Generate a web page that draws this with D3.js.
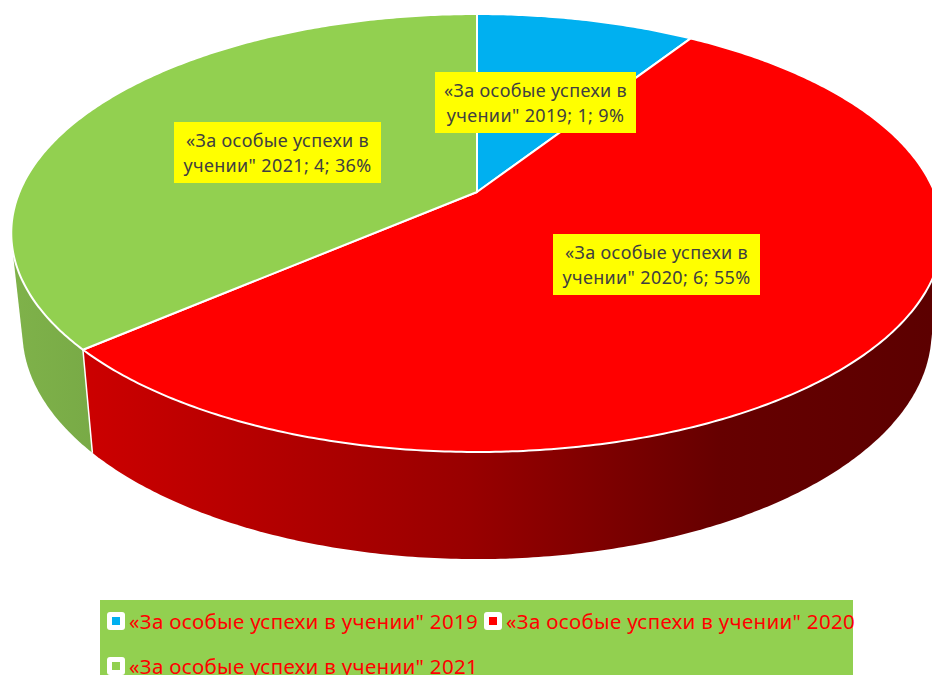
<!DOCTYPE html>
<html>
<head>
<meta charset="utf-8">
<script src="https://cdn.jsdelivr.net/npm/d3@7"></script>
<style>
  html, body { margin: 0; padding: 0; background: #fff; overflow: hidden; }
  svg { display: block; }
  text { font-family: "Noto Sans", "Open Sans", sans-serif; }
</style>
</head>
<body>
<div id="chart"></div>
<script>
const seriesName = "«За особые успехи в учении\"";
const years = ["2019", "2020", "2021"];
const values = [1, 6, 4];

const sliceColors = ["#00b0f0", "#ff0000", "#92d050"];
const labelBoxes = [
    { x: 435, y: 72, w: 201 },
    { x: 553, y: 234, w: 207 },
    { x: 174, y: 122, w: 207 }
];
const legendItems = [
    { x: 107, y: 621 },
    { x: 484, y: 621 },
    { x: 107, y: 666 }
];

const width = 932;
const height = 675;

const svg = d3.select("#chart")
    .append("svg")
    .attr("width", width)
    .attr("height", height);

// gradients for the rim
const defs = svg.append("defs");
const redRim = defs.append("linearGradient")
    .attr("id", "rim-red")
    .attr("gradientUnits", "userSpaceOnUse")
    .attr("x1", 84).attr("x2", 932).attr("y1", 0).attr("y2", 0);
redRim.append("stop").attr("offset", 0).attr("stop-color", "#cc0000");
redRim.append("stop").attr("offset", 0.45).attr("stop-color", "#990000");
redRim.append("stop").attr("offset", 0.75).attr("stop-color", "#660000");
redRim.append("stop").attr("offset", 1).attr("stop-color", "#5c0000");

const greenRim = defs.append("linearGradient")
    .attr("id", "rim-green")
    .attr("gradientUnits", "userSpaceOnUse")
    .attr("x1", 12).attr("x2", 95).attr("y1", 0).attr("y2", 0);
greenRim.append("stop").attr("offset", 0).attr("stop-color", "#7fb24a");
greenRim.append("stop").attr("offset", 1).attr("stop-color", "#78aa46");

// perspective of the tilted disc, angle 0 is at the back, clockwise
const tilt = {
    cx: 477, cy: 192, a: 457.5, b: 211.3, p: 0.1872,
    dropY: 97, scaleX: 0.976, scaleY: 1.039
};

function topPoint(angle) {
    const u = Math.sin(angle);
    const v = Math.cos(angle);
    const w = 1 + tilt.p * v;
    return [tilt.cx + tilt.a * u / w, tilt.cy - tilt.b * v / w];
}

function bottomPoint(angle) {
    const [x, y] = topPoint(angle);
    return [
        tilt.cx + (x - tilt.cx) * tilt.scaleX,
        tilt.cy + tilt.dropY + (y - tilt.cy) * tilt.scaleY
    ];
}

function sweep(a0, a1, fn) {
    const steps = Math.max(2, Math.ceil((a1 - a0) / 0.01));
    return d3.range(steps + 1).map(i => fn(a0 + (a1 - a0) * i / steps));
}

const line = d3.line();

const pie = d3.pie().sort(null).value(d => d);
const slices = pie(values);
const total = d3.sum(values);
const percent = d3.format(".0%");

// rim first, back to front, the blue one is hidden behind the top
// hull gives the straight tangent edge where the rim leaves the top ellipse
const rim = svg.append("g");
[2, 1].forEach(i => {
    const s = slices[i];
    const points = sweep(s.startAngle, s.endAngle, topPoint)
        .concat(sweep(s.startAngle, s.endAngle, bottomPoint));
    rim.append("path")
        .attr("d", line(d3.polygonHull(points)) + "Z")
        .attr("fill", i === 1 ? "url(#rim-red)" : "url(#rim-green)");
});

// white seam between green and red rim
rim.append("line")
    .attr("x1", topPoint(slices[2].startAngle)[0])
    .attr("y1", topPoint(slices[2].startAngle)[1])
    .attr("x2", bottomPoint(slices[2].startAngle)[0])
    .attr("y2", bottomPoint(slices[2].startAngle)[1])
    .attr("stroke", "#fff")
    .attr("stroke-width", 1.5);

// top face
svg.append("g")
    .selectAll("path")
    .data(slices)
    .enter()
    .append("path")
    .attr("d", d => line([[tilt.cx, tilt.cy]].concat(sweep(d.startAngle, d.endAngle, topPoint))) + "Z")
    .attr("fill", (d, i) => sliceColors[i])
    .attr("stroke", "#fff")
    .attr("stroke-width", 2)
    .attr("stroke-linejoin", "round");

// data labels
const labelH = 61;
const label = svg.append("g")
    .selectAll("g")
    .data(slices)
    .enter()
    .append("g")
    .attr("transform", (d, i) => `translate(${labelBoxes[i].x},${labelBoxes[i].y})`);

label.append("rect")
    .attr("width", (d, i) => labelBoxes[i].w)
    .attr("height", labelH)
    .attr("fill", "#ffff00");

label.append("text")
    .attr("x", (d, i) => labelBoxes[i].w / 2)
    .attr("y", 25)
    .attr("text-anchor", "middle")
    .attr("font-size", 18)
    .attr("letter-spacing", 0.35)
    .attr("fill", "#404040")
    .text("«За особые успехи в");

label.append("text")
    .attr("x", (d, i) => labelBoxes[i].w / 2)
    .attr("y", 50)
    .attr("text-anchor", "middle")
    .attr("font-size", 18)
    .attr("letter-spacing", 0.35)
    .attr("fill", "#404040")
    .text((d, i) => `учении" ${years[i]}; ${d.value}; ${percent(d.value / total)}`);

// legend
svg.append("rect")
    .attr("x", 100)
    .attr("y", 600)
    .attr("width", 753)
    .attr("height", 75)
    .attr("fill", "#92d050");

const legend = svg.append("g")
    .selectAll("g")
    .data(years)
    .enter()
    .append("g")
    .attr("transform", (d, i) => `translate(${legendItems[i].x},${legendItems[i].y})`);

legend.append("rect")
    .attr("x", 0)
    .attr("y", -9)
    .attr("width", 18)
    .attr("height", 18)
    .attr("rx", 3)
    .attr("fill", "#fff");

legend.append("rect")
    .attr("x", 5)
    .attr("y", -4)
    .attr("width", 8)
    .attr("height", 8)
    .attr("fill", (d, i) => sliceColors[i]);

legend.append("text")
    .attr("x", 22)
    .attr("y", 8)
    .attr("font-size", 20.5)
    .attr("letter-spacing", 0.32)
    .attr("fill", "#ff0000")
    .text(d => `${seriesName} ${d}`);
</script>
</body>
</html>
